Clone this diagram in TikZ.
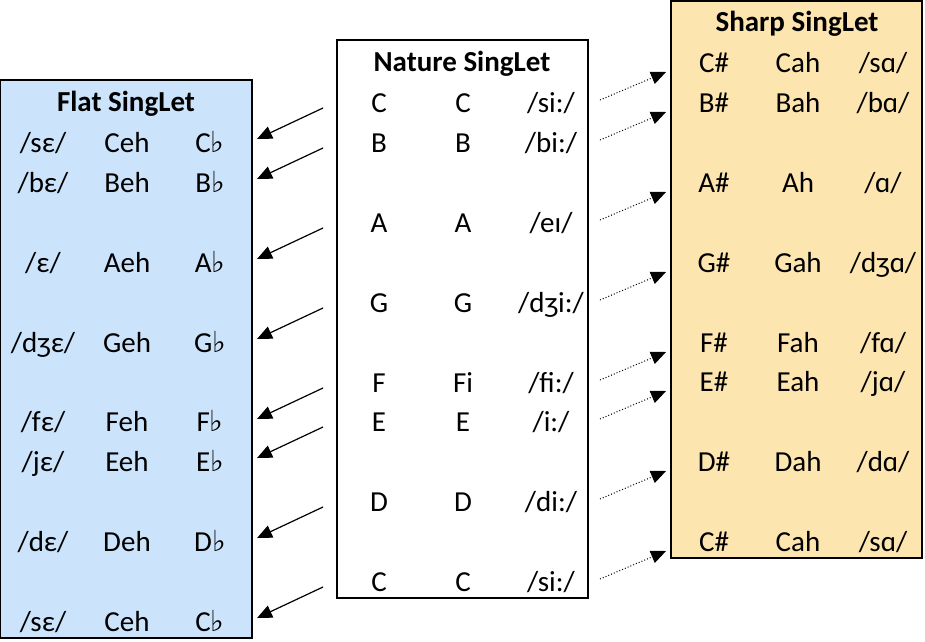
\documentclass[tikz,border=0pt]{standalone}
\usepackage{fontspec}
\setmainfont{Carlito}
\newfontfamily\symfont{DejaVu Sans}
\newcommand\flt{{\symfont ♭}}
\usetikzlibrary{arrows.meta}
\definecolor{flatblue}{RGB}{204,228,251}
\definecolor{sharporange}{RGB}{253,229,176}

\begin{document}
\begin{tikzpicture}[x=1pt,y=-1pt,font=\fontsize{29}{35}\selectfont,
    box/.style={draw, line width=1.5pt},
    title/.style={font=\fontsize{29}{35}\selectfont\bfseries, inner sep=0pt, anchor=base},
    entry/.style={inner sep=0pt, anchor=base},
    flatarrow/.style={line width=1.2pt, -{Triangle[length=15pt,width=13pt]}},
    sharparrow/.style={line width=1pt, dotted, -{Triangle[length=15pt,width=13pt]}}]
   \useasboundingbox (0,0) rectangle (925,641);

   % the three boxes
   \draw[box, fill=flatblue] (0,80) rectangle (252,638);
   \draw[box, fill=white] (337,40) rectangle (588,598);
   \draw[box, fill=sharporange] (671,1) rectangle (922,558);

   \node[title] (flat)   at (126,111) {Flat SingLet};
   \node[title] (nature) at (462,71)  {Nature SingLet};
   \node[title] (sharp)  at (797,31)  {Sharp SingLet};

   % nature rows
   \foreach \n/\y/\p/\q/\r in {1/102/C/C/{/si:/}, 2/142/B/B/{/bi:/},
       3/222/A/A/{/eɪ/}, 4/302/G/G/{/dʒi:/}, 5/382/F/Fi/{/fi:/},
       6/421/E/E/{/i:/}, 7/501/D/D/{/di:/}, 8/581/C/C/{/si:/}}{
     \node[entry] (nat-a\n) at (379,\y+10) {\p};
     \node[entry] (nat-b\n) at (463,\y+10) {\q};
     \node[entry] (nat-c\n) at (551,\y+10) {\r};
   }

   % flat rows
   \foreach \n/\y/\p/\q/\r in {1/142/{/sε/}/Ceh/C, 2/182/{/bε/}/Beh/B,
       3/262/{/ε/}/Aeh/A, 4/342/{/dʒε/}/Geh/G, 5/421/{/fε/}/Feh/F,
       6/461/{/jε/}/Eeh/E, 7/541/{/dε/}/Deh/D, 8/621/{/sε/}/Ceh/C}{
     \node[entry] (flat-a\n) at (43,\y+10)  {\p};
     \node[entry] (flat-b\n) at (127,\y+10) {\q};
     \node[entry] (flat-c\n) at (210,\y+10) {\r\flt};
   }

   % sharp rows
   \foreach \n/\y/\p/\q/\r in {1/62/C\#/Cah/{/sɑ/}, 2/102/B\#/Bah/{/bɑ/},
       3/182/A\#/Ah/{/ɑ/}, 4/262/G\#/Gah/{/dʒɑ/}, 5/342/F\#/Fah/{/fɑ/},
       6/381/E\#/Eah/{/jɑ/}, 7/461/D\#/Dah/{/dɑ/}, 8/541/C\#/Cah/{/sɑ/}}{
     \node[entry] (sharp-a\n) at (714,\y+10) {\p};
     \node[entry] (sharp-b\n) at (798,\y+10) {\q};
     \node[entry] (sharp-c\n) at (883,\y+10) {\r};
   }

   % arrows out of the nature box
   \foreach \n/\y in {1/102, 2/142, 3/222, 4/302, 5/382, 6/421, 7/501, 8/581}{
     \coordinate (fs\n) at (323,\y+6);
     \coordinate (fe\n) at (257,\y+37);
     \coordinate (ss\n) at (600,\y-2);
     \coordinate (se\n) at (666,\y-30);
     \draw[flatarrow] (fs\n) -- (fe\n);
     \draw[sharparrow] (ss\n) -- (se\n);
   }
\end{tikzpicture}
\end{document}
